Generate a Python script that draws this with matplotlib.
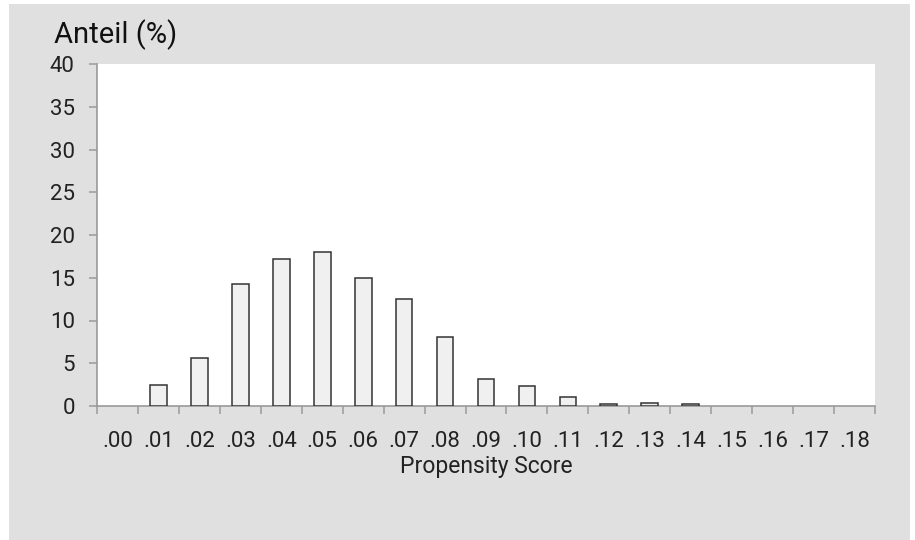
import matplotlib
matplotlib.use("Agg")
import matplotlib.pyplot as plt
from matplotlib.patches import Rectangle
from matplotlib.ticker import FixedLocator, NullFormatter, FixedFormatter

# Propensity score bins and share of cases per bin (%)
categories = [".00", ".01", ".02", ".03", ".04", ".05", ".06", ".07", ".08", ".09",
              ".10", ".11", ".12", ".13", ".14", ".15", ".16", ".17", ".18"]
shares = [0.0, 2.5, 5.6, 14.3, 17.2, 18.0, 15.0, 12.5, 8.1, 3.2,
          2.3, 1.1, 0.2, 0.3, 0.2, 0.0, 0.0, 0.0, 0.0]
y_ticks = [0, 5, 10, 15, 20, 25, 30, 35, 40]

plt.rcParams['font.family'] = ['Roboto', 'DejaVu Sans']

W, H = 915, 540
fig = plt.figure(figsize=(W / 100, H / 100), dpi=100, facecolor="white")

# grey panel behind the chart
panel = Rectangle((9 / W, 0), (910 - 9) / W, 1 - 4 / H,
                  transform=fig.transFigure, facecolor="#e0e0e0",
                  edgecolor="none", zorder=-10)
fig.add_artist(panel)

ax = fig.add_axes([97 / W, 1 - 406 / H, (875 - 97) / W, (406 - 64) / H])
ax.set_zorder(1)
ax.set_facecolor("white")

# empty bins get no outline
x = list(range(len(categories)))
edges = ["#333333" if v > 0 else "none" for v in shares]
ax.bar(x, shares, width=0.41, color="#f0f0f0", edgecolor=edges,
       linewidth=1.1, zorder=3)

ax.set_xlim(-0.5, len(categories) - 0.5)
ax.set_ylim(0, 40)

for side in ("top", "right"):
    ax.spines[side].set_visible(False)
for side in ("left", "bottom"):
    ax.spines[side].set_color("#9a9a9a")
    ax.spines[side].set_linewidth(1.2)

# tick marks on bin boundaries, labels at bin centres
ax.xaxis.set_major_locator(FixedLocator([i - 0.5 for i in range(len(categories) + 1)]))
ax.xaxis.set_major_formatter(NullFormatter())
ax.xaxis.set_minor_locator(FixedLocator(x))
ax.xaxis.set_minor_formatter(FixedFormatter(categories))
ax.tick_params(axis="x", which="major", direction="out", length=6, width=1.1,
               color="#9a9a9a")
ax.tick_params(axis="x", which="minor", length=0, pad=18, labelsize=16,
               labelcolor="#222222")

ax.set_yticks(y_ticks)
ax.tick_params(axis="y", direction="out", length=6, width=1.1, color="#9a9a9a",
               pad=10, labelsize=16, labelcolor="#222222")

ax.set_xlabel("Propensity Score", fontsize=16.5, color="#222222", labelpad=2)

fig.text(54 / W, 1 - 35 / H, "Anteil (%)", fontsize=21, color="#111111",
         ha="left", va="center")

fig.savefig("out.png", dpi=100, facecolor=fig.get_facecolor())
